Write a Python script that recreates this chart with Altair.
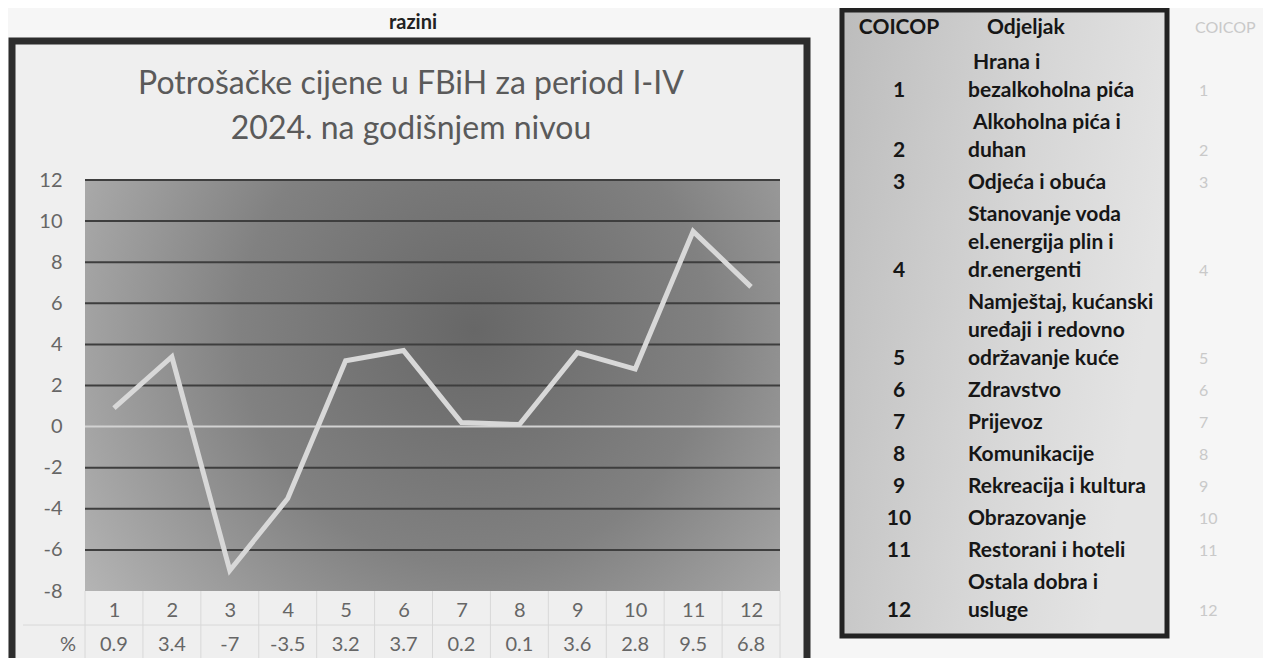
import altair as alt
import pandas as pd

# ---------------- data ----------------
codes = [1, 2, 3, 4, 5, 6, 7, 8, 9, 10, 11, 12]
values = [0.9, 3.4, -7, -3.5, 3.2, 3.7, 0.2, 0.1, 3.6, 2.8, 9.5, 6.8]
y_ticks = [12, 10, 8, 6, 4, 2, 0, -2, -4, -6, -8]
grid_values = [12, 10, 8, 6, 4, 2, 0, -2, -4, -6]
page_heading = "razini"
title_line1 = "Potrošačke cijene  u FBiH za period I-IV"
title_line2 = "2024. na godišnjem nivou"
unit_label = "%"
table_header = ["COICOP", "Odjeljak"]
coicop_codes = ["1", "2", "3", "4", "5", "6", "7", "8", "9", "10", "11", "12"]
coicop_parts = [
    [" Hrana i", "bezalkoholna pića"],
    [" Alkoholna pića i", "duhan"],
    ["Odjeća i obuća"],
    ["Stanovanje voda", "el.energija plin i", "dr.energenti"],
    ["Namještaj, kućanski", "uređaji i redovno", "održavanje kuće"],
    ["Zdravstvo"],
    ["Prijevoz"],
    ["Komunikacije"],
    ["Rekreacija i kultura"],
    ["Obrazovanje"],
    ["Restorani i hoteli"],
    ["Ostala dobra i", "usluge"],
]

# ---------------- layout ----------------
W, H = 695, 411
FONT = "Lato"
GREY_TXT = "#666666"

df = pd.DataFrame({
    "code": codes,
    "value": values,
    "label": [f"{v:g}" for v in values],
})
grid_df = pd.DataFrame({"v": grid_values})
edges_df = pd.DataFrame({"edge": [c - 0.5 for c in codes] + [codes[-1] + 0.5]})
one = pd.DataFrame({"a": [0]})

x_scale = alt.Scale(domain=[codes[0] - 0.5, codes[-1] + 0.5], nice=False, zero=False)
y_scale = alt.Scale(domain=[min(y_ticks), max(y_ticks)], nice=False, zero=False)

x_axis = alt.Axis(
    values=codes, format="d", title=None, grid=False, domain=False, ticks=False,
    tickSize=0, labelPadding=19, labelBaseline="middle", labelFont=FONT,
    labelFontSize=20, labelColor=GREY_TXT, zindex=1,
)
y_axis = alt.Axis(
    values=y_ticks, title=None, grid=False, domain=False, ticks=False,
    tickSize=0, labelPadding=23, labelFont=FONT, labelFontSize=20,
    labelColor=GREY_TXT, zindex=1,
    labelExpr="datum.value < 0 ? '-' + abs(datum.value) : '' + datum.value",
)

X = alt.X("code:Q", scale=x_scale, axis=x_axis)
Y = alt.Y("value:Q", scale=y_scale, axis=y_axis)

frame = alt.Chart(one).mark_rect(
    fill="#efefef", stroke="#2d2d2d", strokeWidth=7
).encode(x=alt.value(-73), x2=alt.value(722), y=alt.value(-139), y2=alt.value(540))

plot_bg = alt.Chart(one).mark_rect(
    fill={
        "gradient": "radial",
        "x1": 0.56, "y1": 0.42, "r1": 0,
        "x2": 0.56, "y2": 0.42, "r2": 0.75,
        "stops": [
            {"offset": 0, "color": "#676767"},
            {"offset": 0.45, "color": "#818181"},
            {"offset": 1, "color": "#c0c0c0"},
        ],
    }
).encode(x=alt.value(0), x2=alt.value(W), y=alt.value(0), y2=alt.value(H))

grid = alt.Chart(grid_df).mark_rule(strokeWidth=2).encode(
    y=alt.Y("v:Q", scale=y_scale, axis=y_axis),
    x=alt.value(0), x2=alt.value(W),
    color=alt.condition("datum.v === 0", alt.value("#d2d2d2"), alt.value("#3e3e3e")),
)

line = alt.Chart(df).mark_line(color="#d8d8d8", strokeWidth=5, strokeJoin="miter").encode(x=X, y=Y)

heading = alt.Chart(one).mark_text(
    text=page_heading, font=FONT, fontSize=20, fontWeight="bold", color="#222222",
    baseline="middle",
).encode(x=alt.value(328), y=alt.value(-157))

title1 = alt.Chart(one).mark_text(
    text=title_line1, font=FONT, fontSize=32, color="#5a5a5a"
).encode(x=alt.value(326), y=alt.value(-96))
title2 = alt.Chart(one).mark_text(
    text=title_line2, font=FONT, fontSize=32, color="#5a5a5a"
).encode(x=alt.value(326), y=alt.value(-51))

table_v = alt.Chart(edges_df).mark_rule(color="#d8d8d8", strokeWidth=1).encode(
    x=alt.X("edge:Q", scale=x_scale, axis=x_axis), y=alt.value(H), y2=alt.value(482)
)
table_h1 = alt.Chart(one).mark_rule(color="#d8d8d8", strokeWidth=1).encode(
    x=alt.value(-62), x2=alt.value(W), y=alt.value(445)
)
table_h2 = alt.Chart(one).mark_rule(color="#d8d8d8", strokeWidth=1).encode(
    x=alt.value(-62), x2=alt.value(W), y=alt.value(482)
)
value_row = alt.Chart(df).mark_text(
    font=FONT, fontSize=20, color=GREY_TXT
).encode(x=X, y=alt.value(465), text="label:N")
pct = alt.Chart(one).mark_text(
    text=unit_label, font=FONT, fontSize=20, color=GREY_TXT
).encode(x=alt.value(-17), y=alt.value(465))

main = alt.layer(
    frame, plot_bg, grid, line, table_v, table_h1, table_h2,
    value_row, pct, heading, title1, title2,
)

# ---------------- right table (COICOP) ----------------
HEADER_Y = -152
FIRST_Y = -117
LINE_STEP = 28
ROW_STEP = 32
CODE_X = 814
DESC_X = 883

desc_rows, code_rows = [], []
y = FIRST_Y - ROW_STEP
for code, parts in zip(coicop_codes, coicop_parts):
    for i, part in enumerate(parts):
        y += ROW_STEP if i == 0 else LINE_STEP
        desc_rows.append({"text": part.strip(), "xpos": DESC_X + (5 if part.startswith(" ") else 0), "ypos": y})
    code_rows.append({"text": code, "ypos": y})
desc_df = pd.DataFrame(desc_rows)
code_df = pd.DataFrame(code_rows)
header_df = pd.DataFrame({"text": [table_header[0]], "ypos": [HEADER_Y]})
header2_df = pd.DataFrame({"text": [table_header[1]], "ypos": [HEADER_Y]})

ident = alt.Scale(domain=[0, 1], range=[0, 1], nice=False, zero=False)
YP = alt.Y("ypos:Q", scale=ident, axis=None)

box = alt.Chart(one).mark_rect(
    fill={
        "gradient": "linear", "x1": 0, "y1": 0, "x2": 1, "y2": 0.3,
        "stops": [
            {"offset": 0, "color": "#bcbcbc"},
            {"offset": 0.6, "color": "#d6d6d6"},
            {"offset": 1, "color": "#e4e4e4"},
        ],
    },
    stroke="#222222", strokeWidth=5,
).encode(x=alt.value(757), x2=alt.value(1082), y=alt.value(-170), y2=alt.value(456))

bold = dict(font=FONT, fontSize=21, fontWeight="bold", color="#161616")
hdr1 = alt.Chart(header_df).mark_text(align="center", **bold).encode(
    x=alt.value(CODE_X), y=YP, text="text:N")
hdr2 = alt.Chart(header2_df).mark_text(align="left", **bold).encode(
    x=alt.value(902), y=YP, text="text:N")
code_txt = alt.Chart(code_df).mark_text(align="center", **bold).encode(
    x=alt.value(CODE_X), y=YP, text="text:N")
desc_txt = alt.Chart(desc_df).mark_text(align="left", **bold).encode(
    x=alt.X("xpos:Q", scale=ident, axis=None), y=YP, text="text:N")

faint = dict(font=FONT, fontSize=16, color="#c9c9c9", align="left")
faint_hdr = alt.Chart(header_df).mark_text(**faint).encode(
    x=alt.value(1110), y=YP, text="text:N")
faint_codes = alt.Chart(code_df).mark_text(**faint).encode(
    x=alt.value(1114), y=YP, text="text:N")

side = alt.layer(box, hdr1, hdr2, code_txt, desc_txt, faint_hdr, faint_codes)

chart = alt.layer(main, side).resolve_scale(x="independent", y="independent").properties(
    width=W, height=H,
    padding={"left": 77, "top": 172, "right": 483, "bottom": 67},
    autosize=alt.AutoSizeParams(type="none"),
).configure(background="#f6f6f6").configure_view(stroke=None)

chart.save("out.html", embed_options={"renderer": "svg", "actions": False})
